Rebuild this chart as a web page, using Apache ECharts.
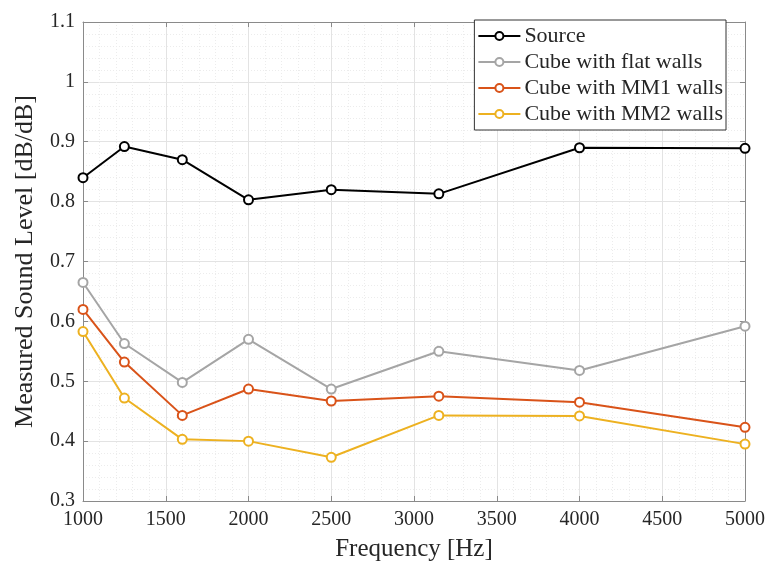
<!DOCTYPE html>
<html lang="en" style="height: 100%">
<head>
  <meta charset="utf-8">
  <title>Measured Sound Level</title>
</head>
<body style="height: 100%; margin: 0; background: #fff">
  <div id="container" style="width: 773px; height: 567px"></div>
  <script type="text/javascript" src="https://cdn.jsdelivr.net/npm/echarts@6/dist/echarts.min.js"></script>
  <script type="text/javascript">
    // data
    const freqs = [1000, 1250, 1600, 2000, 2500, 3150, 4000, 5000];
    const source = [0.840, 0.892, 0.870, 0.803, 0.820, 0.813, 0.890, 0.889];
    const flatWalls = [0.665, 0.563, 0.498, 0.570, 0.487, 0.550, 0.518, 0.592];
    const mm1Walls = [0.620, 0.532, 0.443, 0.487, 0.467, 0.475, 0.465, 0.423];
    const mm2Walls = [0.583, 0.472, 0.403, 0.400, 0.373, 0.443, 0.442, 0.395];
    const seriesNames = ['Source', 'Cube with flat walls', 'Cube with MM1 walls', 'Cube with MM2 walls'];

    var dom = document.getElementById('container');
    var myChart = echarts.init(dom, null, { renderer: 'canvas' });

    const font = 'Liberation Serif';
    const axisColor = '#8a8a8a';
    const textColor = '#262626';
    const colors = ['#000000', '#a5a5a5', '#d95319', '#edb120'];
    const values = [source, flatWalls, mm1Walls, mm2Walls];

    function pairs(arr) {
      return freqs.map(function (f, i) { return [f, arr[i]]; });
    }

    const gridLines = {
      splitLine: { show: true, lineStyle: { color: '#e3e3e3', width: 1 } },
      minorTick: { show: true, splitNumber: 5, length: 0 },
      minorSplitLine: { show: true, lineStyle: { color: '#ececec', type: [1, 2] } }
    };

    var option = {
      backgroundColor: '#fff',
      animation: false,
      textStyle: { fontFamily: font },
      grid: { left: 83, right: 28, top: 22, bottom: 65, containLabel: false },
      legend: {
        right: 47,
        top: 20,
        orient: 'vertical',
        align: 'left',
        itemWidth: 42,
        itemHeight: 10,
        itemGap: 4,
        padding: [5, 3, 5, 3],
        backgroundColor: '#fff',
        borderColor: '#333',
        borderWidth: 1,
        borderRadius: 0,
        textStyle: { fontFamily: font, fontSize: 22, lineHeight: 21, color: textColor, padding: [0, 0, 0, -1] },
        data: seriesNames
      },
      xAxis: [
        Object.assign({
          type: 'value',
          min: 1000,
          max: 5000,
          interval: 500,
          name: 'Frequency [Hz]',
          nameLocation: 'middle',
          nameGap: 36,
          nameTextStyle: { fontFamily: font, fontSize: 25, color: textColor },
          axisLine: { show: true, lineStyle: { color: axisColor } },
          axisTick: { show: true, inside: true, length: 5, lineStyle: { color: axisColor } },
          axisLabel: {
            fontFamily: font, fontSize: 20, color: textColor, margin: 9,
            formatter: function (v) { return String(v); }
          }
        }, gridLines),
        {
          type: 'value', position: 'top', min: 1000, max: 5000, interval: 500,
          axisLine: { show: true, lineStyle: { color: axisColor } },
          axisTick: { show: true, inside: true, length: 5, lineStyle: { color: axisColor } },
          axisLabel: { show: false }, splitLine: { show: false }
        }
      ],
      yAxis: [
        Object.assign({
          type: 'value',
          min: 0.3,
          max: 1.1,
          interval: 0.1,
          name: 'Measured Sound Level [dB/dB]',
          nameLocation: 'middle',
          nameGap: 45,
          nameTextStyle: { fontFamily: font, fontSize: 26, color: textColor },
          axisLine: { show: true, lineStyle: { color: axisColor } },
          axisTick: { show: true, inside: true, length: 5, lineStyle: { color: axisColor } },
          axisLabel: { fontFamily: font, fontSize: 20, color: textColor, margin: 8 }
        }, gridLines),
        {
          type: 'value', position: 'right', min: 0.3, max: 1.1, interval: 0.1,
          axisLine: { show: true, lineStyle: { color: axisColor } },
          axisTick: { show: true, inside: true, length: 5, lineStyle: { color: axisColor } },
          axisLabel: { show: false }, splitLine: { show: false }
        }
      ],
      series: seriesNames.map(function (name, i) {
        return {
          name: name,
          type: 'line',
          data: pairs(values[i]),
          symbol: 'emptyCircle',
          symbolSize: 9,
          color: colors[i],
          lineStyle: { color: colors[i], width: 2 },
          itemStyle: { color: colors[i], borderColor: colors[i], borderWidth: 1.8 },
          z: 10 - i
        };
      })
    };

    myChart.setOption(option);
    window.addEventListener('resize', myChart.resize);
  </script>
</body>
</html>
